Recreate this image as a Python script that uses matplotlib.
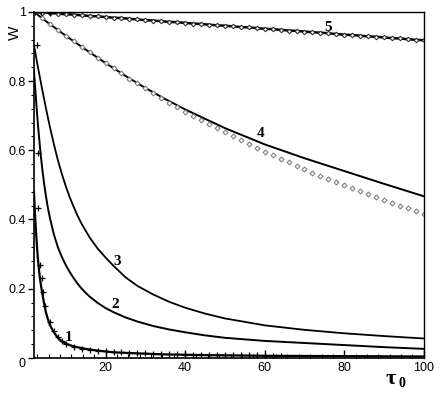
import matplotlib
matplotlib.use("Agg")
import matplotlib.pyplot as plt
from matplotlib.ticker import MultipleLocator, FixedLocator

# curve 1
x1 = [2, 2.2, 2.4, 2.6, 2.8, 3.0, 3.3, 3.6, 4.0, 4.5, 5, 5.5, 6, 7, 8, 9, 10, 12, 15, 18, 22,
      28, 35, 45, 60, 80, 100]
y1 = [0.48, 0.43, 0.385, 0.35, 0.315, 0.285, 0.25, 0.222, 0.192, 0.16, 0.132, 0.112, 0.095,
      0.074, 0.058, 0.048, 0.041, 0.033, 0.026, 0.021, 0.016, 0.013, 0.010, 0.008, 0.006, 0.005,
      0.004]

# curve 2
x2 = [2, 2.25, 2.5, 2.75, 3, 3.5, 4, 4.5, 5, 5.5, 6, 7, 8, 9, 10, 11, 12, 13, 14, 15, 16, 18,
      20, 22, 25, 28, 32, 36, 40, 45, 50, 60, 70, 80, 90, 100]
y2 = [0.83, 0.79, 0.75, 0.71, 0.675, 0.61, 0.555, 0.508, 0.468, 0.434, 0.405, 0.357, 0.32,
      0.292, 0.268, 0.248, 0.230, 0.214, 0.200, 0.188, 0.177, 0.159, 0.144, 0.132, 0.117, 0.105,
      0.092, 0.082, 0.074, 0.065, 0.058, 0.049, 0.043, 0.037, 0.031, 0.026]

# curve 3
x3 = [2, 2.5, 3, 3.5, 4, 5, 6, 7, 8, 9, 10, 11, 12, 13, 14, 16, 18, 20, 22, 25, 28, 32, 36, 40,
      45, 50, 60, 70, 80, 90, 100]
y3 = [0.905, 0.872, 0.84, 0.81, 0.78, 0.722, 0.668, 0.618, 0.572, 0.532, 0.496, 0.464, 0.436,
      0.410, 0.387, 0.348, 0.316, 0.290, 0.266, 0.233, 0.208, 0.183, 0.162, 0.145, 0.128, 0.114,
      0.094, 0.081, 0.071, 0.063, 0.056]

# curve 4
x4 = [2, 5, 10, 15, 20, 25, 30, 35, 40, 50, 60, 70, 80, 90, 100]
y4 = [1.0, 0.973, 0.931, 0.891, 0.852, 0.815, 0.780, 0.748, 0.718, 0.664, 0.617, 0.577, 0.540,
      0.503, 0.467]

# grid of the point series (every 2 units)
xs = list(range(2, 101, 2))

# diamonds near curve 4
yd = [1.000, 0.982, 0.965, 0.948, 0.931, 0.915, 0.898, 0.883, 0.867, 0.852, 0.837, 0.822, 0.807,
      0.793, 0.779, 0.765, 0.752, 0.738, 0.725, 0.712, 0.700, 0.687, 0.675, 0.663, 0.652, 0.640,
      0.629, 0.618, 0.607, 0.596, 0.585, 0.575, 0.565, 0.555, 0.545, 0.535, 0.526, 0.517, 0.508,
      0.499, 0.490, 0.481, 0.473, 0.464, 0.456, 0.448, 0.440, 0.432, 0.425, 0.417]

# curve 5 (with diamonds)
y5 = [1.000, 0.998, 0.997, 0.995, 0.993, 0.992, 0.990, 0.988, 0.987, 0.985, 0.983, 0.982, 0.980,
      0.978, 0.976, 0.975, 0.973, 0.971, 0.970, 0.968, 0.966, 0.965, 0.963, 0.961, 0.960, 0.958,
      0.956, 0.955, 0.953, 0.951, 0.950, 0.948, 0.946, 0.945, 0.943, 0.941, 0.940, 0.938, 0.936,
      0.934, 0.933, 0.931, 0.929, 0.928, 0.926, 0.924, 0.923, 0.921, 0.919, 0.918]

# cross markers
xc = [2.7, 2.9, 3.1, 3.5, 3.9, 4.3, 4.9, 6.0, 7.0, 8, 9, 10, 12, 14, 16, 18, 20, 22, 24, 26, 28,
      30, 32, 34, 36, 38, 40, 42, 44, 46, 48, 50, 52, 54, 56, 58, 60, 62, 64, 2.2, 3.8, 6.0]
yc = [0.905, 0.593, 0.433, 0.269, 0.23, 0.19, 0.15, 0.105, 0.078, 0.060, 0.049, 0.041, 0.032,
      0.027, 0.024, 0.021, 0.019, 0.017, 0.016, 0.015, 0.014, 0.013, 0.012, 0.011, 0.011, 0.010,
      0.0095, 0.009, 0.0088, 0.0085, 0.0082, 0.008, 0.0078, 0.0075, 0.0072, 0.007, 0.0068,
      0.0065, 0.0062, 1.0, 0.999, 0.997]

labels = ["1", "2", "3", "4", "5"]
label_x = [10.8, 22.5, 23.0, 59.0, 76.0]
label_y = [0.06, 0.155, 0.278, 0.648, 0.955]

yticks = [0, 0.2, 0.4, 0.6, 0.8, 1]
ytick_labels = ["0", "0.2", "0.4", "0.6", "0.8", "1"]
xticks = [20, 40, 60, 80, 100]

fig = plt.figure(figsize=(4.41, 3.95), dpi=100)
ax = fig.add_axes([0.077, 0.094, 0.884, 0.876])

ax.plot(x1, y1, color="black", lw=1.6)
ax.plot(x2, y2, color="black", lw=1.4)
ax.plot(x3, y3, color="black", lw=1.3)
ax.plot(x4, y4, color="black", lw=1.4)
ax.plot(xs, yd, linestyle="none", marker="D", ms=2.5, mfc="white", mec="#808080", mew=0.8)
ax.plot(xs, y5, color="black", lw=1.8, marker="D", ms=2.3, mfc="white", mec="#333333", mew=0.8)
ax.plot(xc, yc, linestyle="none", marker="+", ms=4, color="black", mew=0.9)

for lab, lx, ly in zip(labels, label_x, label_y):
    ax.text(lx, ly, lab, fontsize=11, fontweight="bold", family="Liberation Serif",
            ha="center", va="center")

ax.set_xlim(2, 100)
ax.set_ylim(0, 1)
ax.xaxis.set_major_locator(FixedLocator(xticks))
ax.xaxis.set_minor_locator(MultipleLocator(20 / 7))
ax.yaxis.set_major_locator(FixedLocator(yticks))
ax.yaxis.set_minor_locator(MultipleLocator(0.04))
ax.set_yticklabels(ytick_labels)

ax.tick_params(axis="x", which="major", direction="in", length=6, width=1, labelsize=9, pad=3)
ax.tick_params(axis="x", which="minor", direction="in", length=3, width=0.8)
ax.tick_params(axis="y", which="major", direction="out", length=4, width=1, labelsize=9, pad=2)
ax.tick_params(axis="y", which="minor", direction="out", length=2.5, width=0.8)
for lab in ax.get_xticklabels() + ax.get_yticklabels():
    lab.set_family("Liberation Sans")
# the zero label sits a little below the axis
ax.get_yticklabels()[0].set_va("top")

for side in ["left", "bottom"]:
    ax.spines[side].set_linewidth(1.2)
for side in ["top", "right"]:
    ax.spines[side].set_linewidth(1.0)

ax.text(-0.05, 0.94, "W", transform=ax.transAxes, rotation=90, fontsize=11,
        family="Liberation Sans", ha="center", va="center")
ax.text(0.915, -0.062, "τ", transform=ax.transAxes, fontsize=16, fontweight="bold",
        family="Liberation Serif", ha="center", va="center")
ax.text(0.945, -0.075, "0", transform=ax.transAxes, fontsize=10, fontweight="bold",
        family="Liberation Serif", ha="center", va="center")

fig.savefig("out.png", dpi=100)
